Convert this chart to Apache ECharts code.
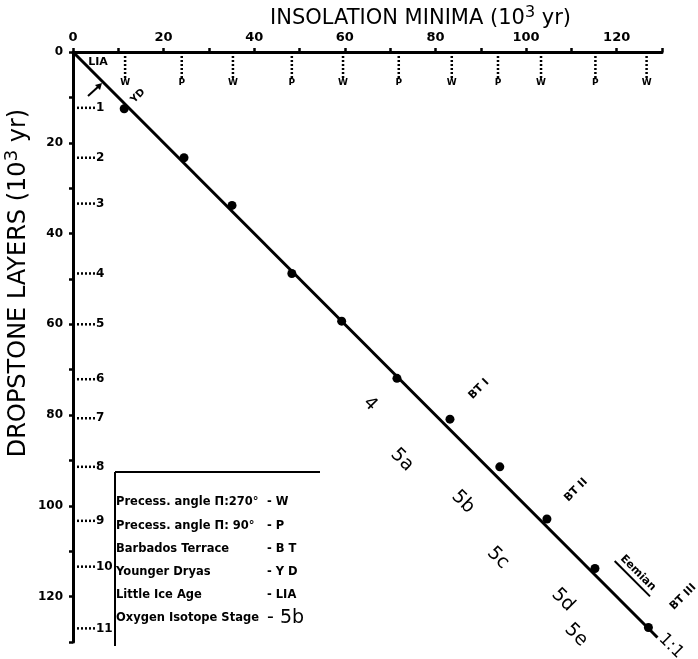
<!DOCTYPE html>
<html>
<head>
<meta charset="utf-8">
<script src="https://cdn.jsdelivr.net/npm/echarts@6/dist/echarts.min.js"></script>
<style>
html, body { margin: 0; padding: 0; background: #fff; }
#chart { width: 698px; height: 659px; }
</style>
</head>
<body>
<div id="chart"></div>
<script>
var axisMax = 130;
var tickStep = 20;

// insolation minima marked under the top axis
var minimaAges = [11.5, 24.0, 35.3, 48.3, 59.6, 71.9, 83.6, 93.8, 103.3, 115.3, 126.6];
var minimaTypes = ['W', 'P', 'W', 'P', 'W', 'P', 'W', 'P', 'W', 'P', 'W'];

// dropstone layers marked beside the left axis
var layerAges = [12.3, 23.3, 33.4, 48.8, 60.0, 72.1, 80.7, 91.4, 103.3, 113.4, 127.0];
var layerNumbers = ['1', '2', '3', '4', '5', '6', '7', '8', '9', '10', '11'];

// insolation minimum vs dropstone layer
var pointInsolation = [11.3, 24.5, 35.1, 48.3, 59.3, 71.5, 83.2, 94.2, 104.6, 115.2, 127.0];
var pointDropstone = [12.5, 23.3, 33.8, 48.8, 59.3, 71.9, 80.9, 91.4, 102.9, 113.8, 126.8];

// 1:1 line
var lineX = [0, 129];
var lineY = [0, 129];

var legendNames = ['Precess. angle \u03a0:270\u00b0', 'Precess. angle \u03a0: 90\u00b0', 'Barbados Terrace',
    'Younger Dryas', 'Little Ice Age', 'Oxygen Isotope Stage'];
var legendCodes = ['- W', '- P', '- B T', '- Y D', '- LIA', '- 5b'];

var font = 'DejaVu Sans';
var deg = Math.PI / 180;

function note(text, x, y, rot, size, weight) {
    return {
        type: 'text', x: x, y: y, rotation: rot * deg,
        style: {
            text: text, fill: '#000', fontFamily: font, fontSize: size,
            fontWeight: weight || 'normal', align: 'center', verticalAlign: 'middle'
        }
    };
}

var graphics = [
    note('LIA', 98, 62, 0, 11, 'bold'),
    note('YD', 138, 96, 45, 10, 'bold'),
    note('BT I', 479, 389, 45, 11, 'bold'),
    note('BT II', 576, 490, 45, 11, 'bold'),
    note('BT III', 683, 597, 45, 11, 'bold'),
    note('4', 370, 404, -45, 18),
    note('5a', 402, 460, -45, 19),
    note('5b', 463, 502, -45, 19),
    note('5c', 498, 558, -45, 19),
    note('5d', 563, 600, -45, 19),
    note('5e', 576, 635, -45, 19),
    note('1:1', 671, 646, -45, 17),
    {
        type: 'group', x: 638, y: 573, rotation: -45 * deg,
        children: [
            note('Eemian', 0, 0, 0, 11, 'bold'),
            { type: 'line', shape: { x1: -25, y1: 8, x2: 25, y2: 8 }, style: { stroke: '#000', lineWidth: 2 } }
        ]
    },
    // arrow toward the line near layer 1
    { type: 'line', shape: { x1: 88, y1: 96, x2: 99, y2: 86 }, style: { stroke: '#000', lineWidth: 2 } },
    { type: 'polygon', shape: { points: [[102, 83], [95, 85], [100, 90]] }, style: { fill: '#000' } },
    // legend box
    { type: 'line', shape: { x1: 115, y1: 472, x2: 320, y2: 472 }, style: { stroke: '#000', lineWidth: 2 } },
    { type: 'line', shape: { x1: 115, y1: 472, x2: 115, y2: 646 }, style: { stroke: '#000', lineWidth: 2 } }
];

var legendRowY = [502, 526, 549, 572, 595, 618];
legendNames.forEach(function (name, i) {
    graphics.push({
        type: 'text', x: 116, y: legendRowY[i],
        style: { text: name, fill: '#000', fontFamily: font, fontSize: 11.5, fontWeight: 'bold', verticalAlign: 'middle' }
    });
    var last = i === legendNames.length - 1;
    graphics.push({
        type: 'text', x: 267, y: legendRowY[i],
        style: {
            text: legendCodes[i], fill: '#000', fontFamily: font,
            fontSize: last ? 19 : 11.5, fontWeight: last ? 'normal' : 'bold', verticalAlign: 'middle'
        }
    });
});

function renderMinima(params, api) {
    var p = api.coord([api.value(0), 0]);
    return {
        type: 'group',
        children: [
            { type: 'line', shape: { x1: p[0], y1: p[1] + 4, x2: p[0], y2: p[1] + 26 },
              style: { stroke: '#000', lineWidth: 2.5, lineDash: [2, 2] } },
            { type: 'text', x: p[0], y: p[1] + 31,
              style: { text: minimaTypes[params.dataIndex], fill: '#000', fontFamily: font,
                       fontSize: 9, fontWeight: 'bold', align: 'center', verticalAlign: 'middle' } }
        ]
    };
}

function renderLayers(params, api) {
    var p = api.coord([0, api.value(1)]);
    return {
        type: 'group',
        children: [
            { type: 'line', shape: { x1: p[0] + 4, y1: p[1], x2: p[0] + 22, y2: p[1] },
              style: { stroke: '#000', lineWidth: 2.5, lineDash: [2, 2] } },
            { type: 'text', x: p[0] + 23, y: p[1],
              style: { text: layerNumbers[params.dataIndex], fill: '#000', fontFamily: font,
                       fontSize: 12, fontWeight: 'bold', align: 'left', verticalAlign: 'middle' } }
        ]
    };
}

function tickLabel(v) {
    return v === axisMax ? '' : String(v);
}

var axisBase = {
    type: 'value', min: 0, max: axisMax, interval: tickStep,
    nameMoveOverlap: false,
    splitLine: { show: false },
    axisLine: { onZero: false, lineStyle: { color: '#000', width: 3 } },
    axisTick: { length: 4, lineStyle: { color: '#000', width: 2.5 } },
    minorTick: { show: true, splitNumber: 2, length: 4, lineStyle: { color: '#000', width: 2.5 } }
};

var chart = echarts.init(document.getElementById('chart'));
chart.setOption({
    animation: false,
    backgroundColor: '#fff',
    grid: { left: 73, top: 52, right: 36, bottom: 17, containLabel: false, outerBoundsMode: 'none' },
    xAxis: echarts.util.merge({
        position: 'top',
        name: '{t|INSOLATION MINIMA (10}{s|3}{t| yr)}',
        nameLocation: 'middle',
        nameGap: 19,
        nameTextStyle: {
            padding: [0, 0, 0, 106],
            rich: {
                t: { fontFamily: font, fontSize: 21, color: '#000', lineHeight: 28 },
                s: { fontFamily: font, fontSize: 16, color: '#000', verticalAlign: 'top', lineHeight: 18 }
            }
        },
        axisLabel: { color: '#000', fontFamily: font, fontSize: 13, fontWeight: 'bold', margin: 8, formatter: tickLabel }
    }, axisBase),
    yAxis: echarts.util.merge({
        position: 'left',
        inverse: true,
        name: '{t|DROPSTONE LAYERS (10}{s|3}{t| yr)}',
        nameLocation: 'middle',
        nameGap: 38,
        nameTextStyle: {
            padding: [0, 0, 0, 128],
            rich: {
                t: { fontFamily: font, fontSize: 24, color: '#000', lineHeight: 32 },
                s: { fontFamily: font, fontSize: 18, color: '#000', verticalAlign: 'top', lineHeight: 20 }
            }
        },
        axisLabel: { color: '#000', fontFamily: font, fontSize: 12, fontWeight: 'bold', margin: 10, formatter: tickLabel }
    }, axisBase),
    series: [
        {
            type: 'line',
            data: lineX.map(function (x, i) { return [x, lineY[i]]; }),
            showSymbol: false,
            lineStyle: { color: '#000', width: 3 },
            z: 2
        },
        {
            type: 'scatter',
            data: pointInsolation.map(function (x, i) { return [x, pointDropstone[i]]; }),
            symbolSize: 9,
            itemStyle: { color: '#000', opacity: 1 },
            z: 3
        },
        {
            type: 'custom',
            data: minimaAges.map(function (v) { return [v, 0]; }),
            renderItem: renderMinima,
            z: 4
        },
        {
            type: 'custom',
            data: layerAges.map(function (v) { return [0, v]; }),
            renderItem: renderLayers,
            z: 4
        }
    ],
    graphic: graphics
});
</script>
</body>
</html>
